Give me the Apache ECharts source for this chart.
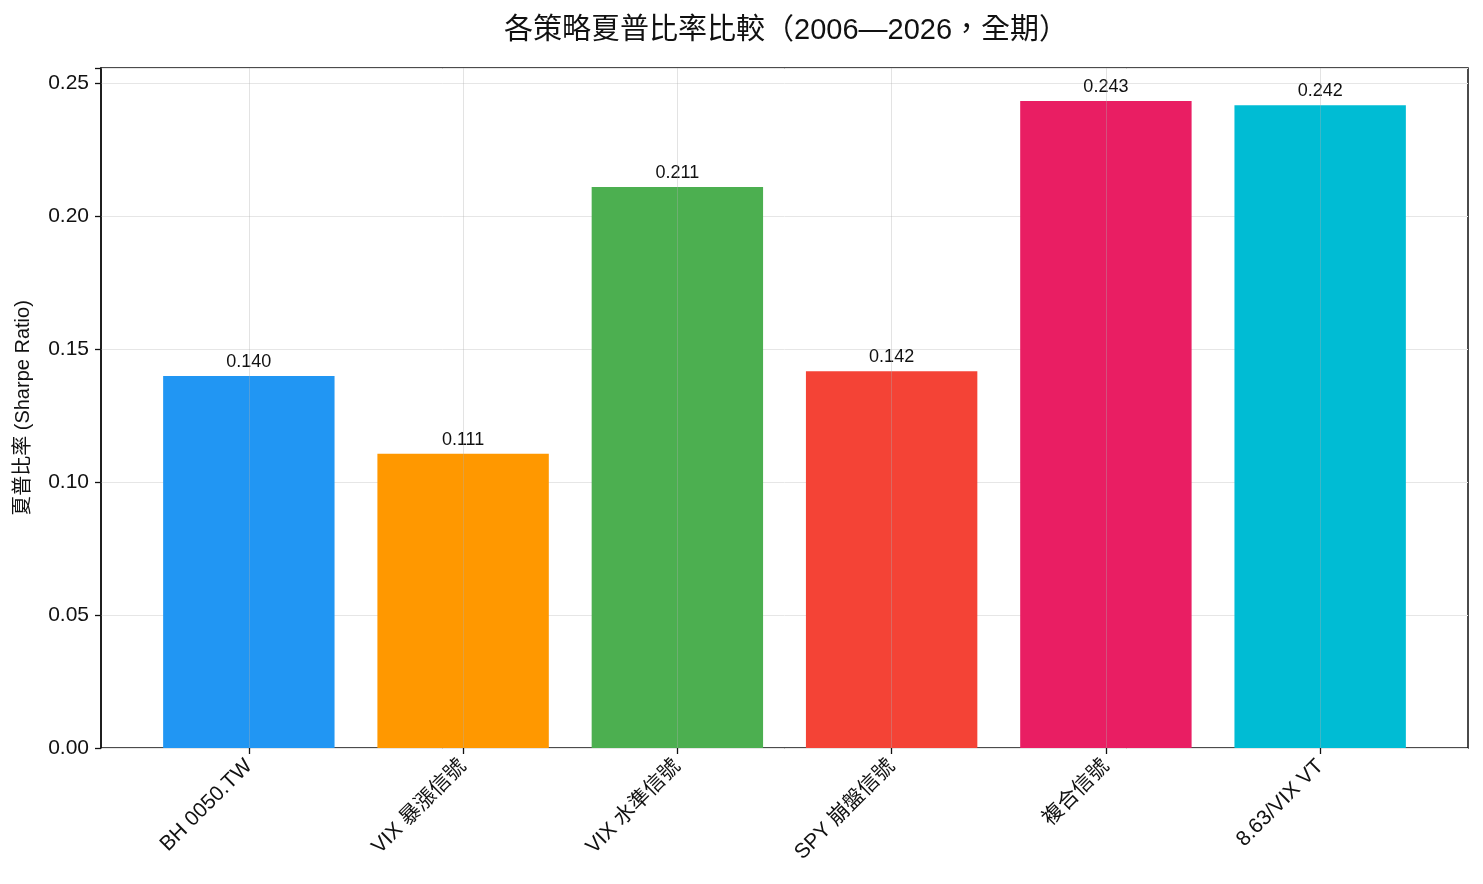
<!DOCTYPE html>
<html>
<head>
<meta charset="utf-8">
<script src="https://cdn.jsdelivr.net/npm/echarts@6/dist/echarts.min.js"></script>
<style>
  html, body { margin: 0; padding: 0; background: #fff; }
  #chart { width: 1483px; height: 884px; }
</style>
</head>
<body>
<div id="chart"></div>
<script>
// 各策略夏普比率
const categories = ['BH 0050.TW', 'VIX 暴漲信號', 'VIX 水準信號', 'SPY 崩盤信號', '複合信號', '8.63/VIX VT']
const sharpeValues = [0.1398, 0.1106, 0.2109, 0.1416, 0.2432, 0.2416]
const barColors = ['#2196F3', '#FF9800', '#4CAF50', '#F44336', '#E91E63', '#00BCD4']
const yTicks = [0, 0.05, 0.1, 0.15, 0.2, 0.25]

const FONT = '"Liberation Sans", "Noto Sans CJK TC", "Noto Sans CJK SC", sans-serif'
const positions = categories.map((c, i) => i)

const chart = echarts.init(document.getElementById('chart'))
const option = {
  backgroundColor: '#fff',
  animation: false,
  title: {
    text: '各策略夏普比率比較（2006—2026，全期）',
    left: 499,
    top: 11,
    textStyle: { fontFamily: FONT, fontSize: 29, fontWeight: 'normal', color: '#111' },
  },
  grid: {
    left: 101,
    right: 15,
    top: 68,
    bottom: 136,
    show: true,
    borderColor: '#111',
    borderWidth: 1.5,
  },
  xAxis: {
    type: 'value',
    min: -0.69,
    max: 5.69,
    axisLine: { show: false },
    splitLine: { show: false },
    axisTick: {
      show: true,
      customValues: positions,
      length: 6,
      lineStyle: { color: '#111', width: 1.3 },
    },
    axisLabel: {
      customValues: positions,
      rotate: 45,
      margin: 15,
      fontFamily: FONT,
      fontSize: 21,
      color: '#111',
      formatter: (v) => categories[Math.round(v)] || '',
    },
  },
  yAxis: {
    type: 'value',
    min: 0,
    max: 0.2556,
    interval: 0.05,
    name: '夏普比率 (Sharpe Ratio)',
    nameLocation: 'middle',
    nameGap: 68,
    nameTextStyle: { fontFamily: FONT, fontSize: 20, color: '#111' },
    axisLine: { show: true, onZero: false, lineStyle: { color: '#111', width: 1.5 } },
    axisTick: { show: true, length: 6, lineStyle: { color: '#111', width: 1.3 } },
    axisLabel: {
      margin: 12,
      fontFamily: FONT,
      fontSize: 21,
      color: '#111',
      formatter: (v) => {
        const hit = yTicks.some((t) => Math.abs(t - v) < 1e-6)
        return hit ? v.toFixed(2) : ''
      },
    },
    splitLine: { show: true, lineStyle: { color: '#e6e6e6', width: 1 } },
  },
  series: [
    {
      type: 'bar',
      barWidth: '80%',
      data: sharpeValues.map((v, i) => ({
        value: [positions[i], v],
        itemStyle: { color: barColors[i] },
      })),
      label: {
        show: true,
        position: 'top',
        distance: 5,
        fontFamily: FONT,
        fontSize: 18,
        color: '#111',
        formatter: (p) => p.value[1].toFixed(3),
      },
      markLine: {
        silent: true,
        symbol: 'none',
        label: { show: false },
        lineStyle: { color: 'rgba(176,176,176,0.35)', width: 1, type: 'solid' },
        data: positions.map((p) => ({ xAxis: p })),
      },
    },
  ],
}
chart.setOption(option)
</script>
</body>
</html>
